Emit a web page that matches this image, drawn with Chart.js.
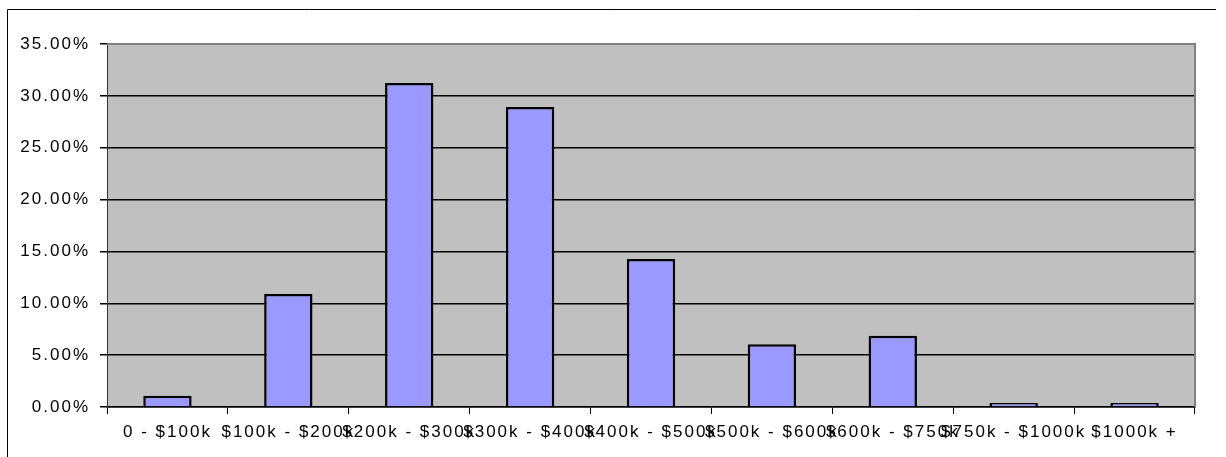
<!DOCTYPE html>
<html>
<head>
<meta charset="utf-8">
<script src="https://cdn.jsdelivr.net/npm/chart.js@4/dist/chart.umd.min.js"></script>
<style>
  html, body { margin: 0; padding: 0; background: #fff; }
  canvas { display: block; }
</style>
</head>
<body>
<canvas id="chart" width="1226" height="457"></canvas>
<script>
const categories = ['0 - $100k', '$100k - $200k', '$200k - $300k', '$300k - $400k', '$400k - $500k',
  '$500k - $600k', '$600k - $750k', '$750k - $1000k', '$1000k +'];
const shares = [1.09, 10.9, 31.25, 28.93, 14.27, 6.05, 6.88, 0.39, 0.39];
const yTicks = [0, 5, 10, 15, 20, 25, 30, 35];

const plotBackground = {
  id: 'plotBackground',
  beforeDraw(chart) {
    const { ctx, chartArea: a } = chart;
    ctx.save();
    ctx.fillStyle = '#c0c0c0';
    ctx.fillRect(a.left, a.top, a.right - a.left, a.bottom - a.top);
    ctx.restore();
    // wide Excel-like text
    ctx.letterSpacing = '2px';
  },
  afterDraw(chart) {
    const { ctx, chartArea: a } = chart;
    ctx.save();
    ctx.strokeStyle = '#808080';
    ctx.lineWidth = 2;
    ctx.beginPath();
    ctx.moveTo(a.left, a.top);
    ctx.lineTo(a.right, a.top);
    ctx.lineTo(a.right, a.bottom);
    ctx.stroke();
    // outer chart frame (top and left visible)
    ctx.strokeStyle = '#000';
    ctx.lineWidth = 1;
    ctx.beginPath();
    ctx.moveTo(7.5, 457);
    ctx.lineTo(7.5, 9.5);
    ctx.lineTo(1216, 9.5);
    ctx.stroke();
    ctx.restore();
  }
};

new Chart(document.getElementById('chart'), {
  type: 'bar',
  data: {
    labels: categories,
    datasets: [{
      data: shares,
      backgroundColor: '#9999ff',
      borderColor: '#000',
      borderWidth: 2.5,
      categoryPercentage: 1,
      barPercentage: 0.4
    }]
  },
  options: {
    responsive: false,
    animation: false,
    layout: { padding: { top: 44, right: 31, left: 0, bottom: 0 } },
    plugins: { legend: { display: false }, tooltip: { enabled: false } },
    scales: {
      x: {
        afterFit(scale) { scale.height = 50; },
        grid: { offset: true, drawOnChartArea: false, drawTicks: true, tickLength: 7, color: '#000' },
        border: { color: '#000', width: 1.5 },
        ticks: {
          autoSkip: false, maxRotation: 0, minRotation: 0, padding: 8,
          color: '#000', font: { family: 'Liberation Sans, Arial', size: 17 }
        }
      },
      y: {
        min: 0,
        max: 35,
        afterFit(scale) { scale.width = 107; },
        afterBuildTicks(scale) { scale.ticks = yTicks.map(v => ({ value: v })); },
        grid: { color: '#000', lineWidth: 1.5, tickLength: 7 },
        border: { color: '#333', width: 1 },
        ticks: {
          padding: 10,
          color: '#000',
          font: { family: 'Liberation Sans, Arial', size: 17 },
          callback: v => v.toFixed(2) + '%'
        }
      }
    }
  },
  plugins: [plotBackground]
});
</script>
</body>
</html>
